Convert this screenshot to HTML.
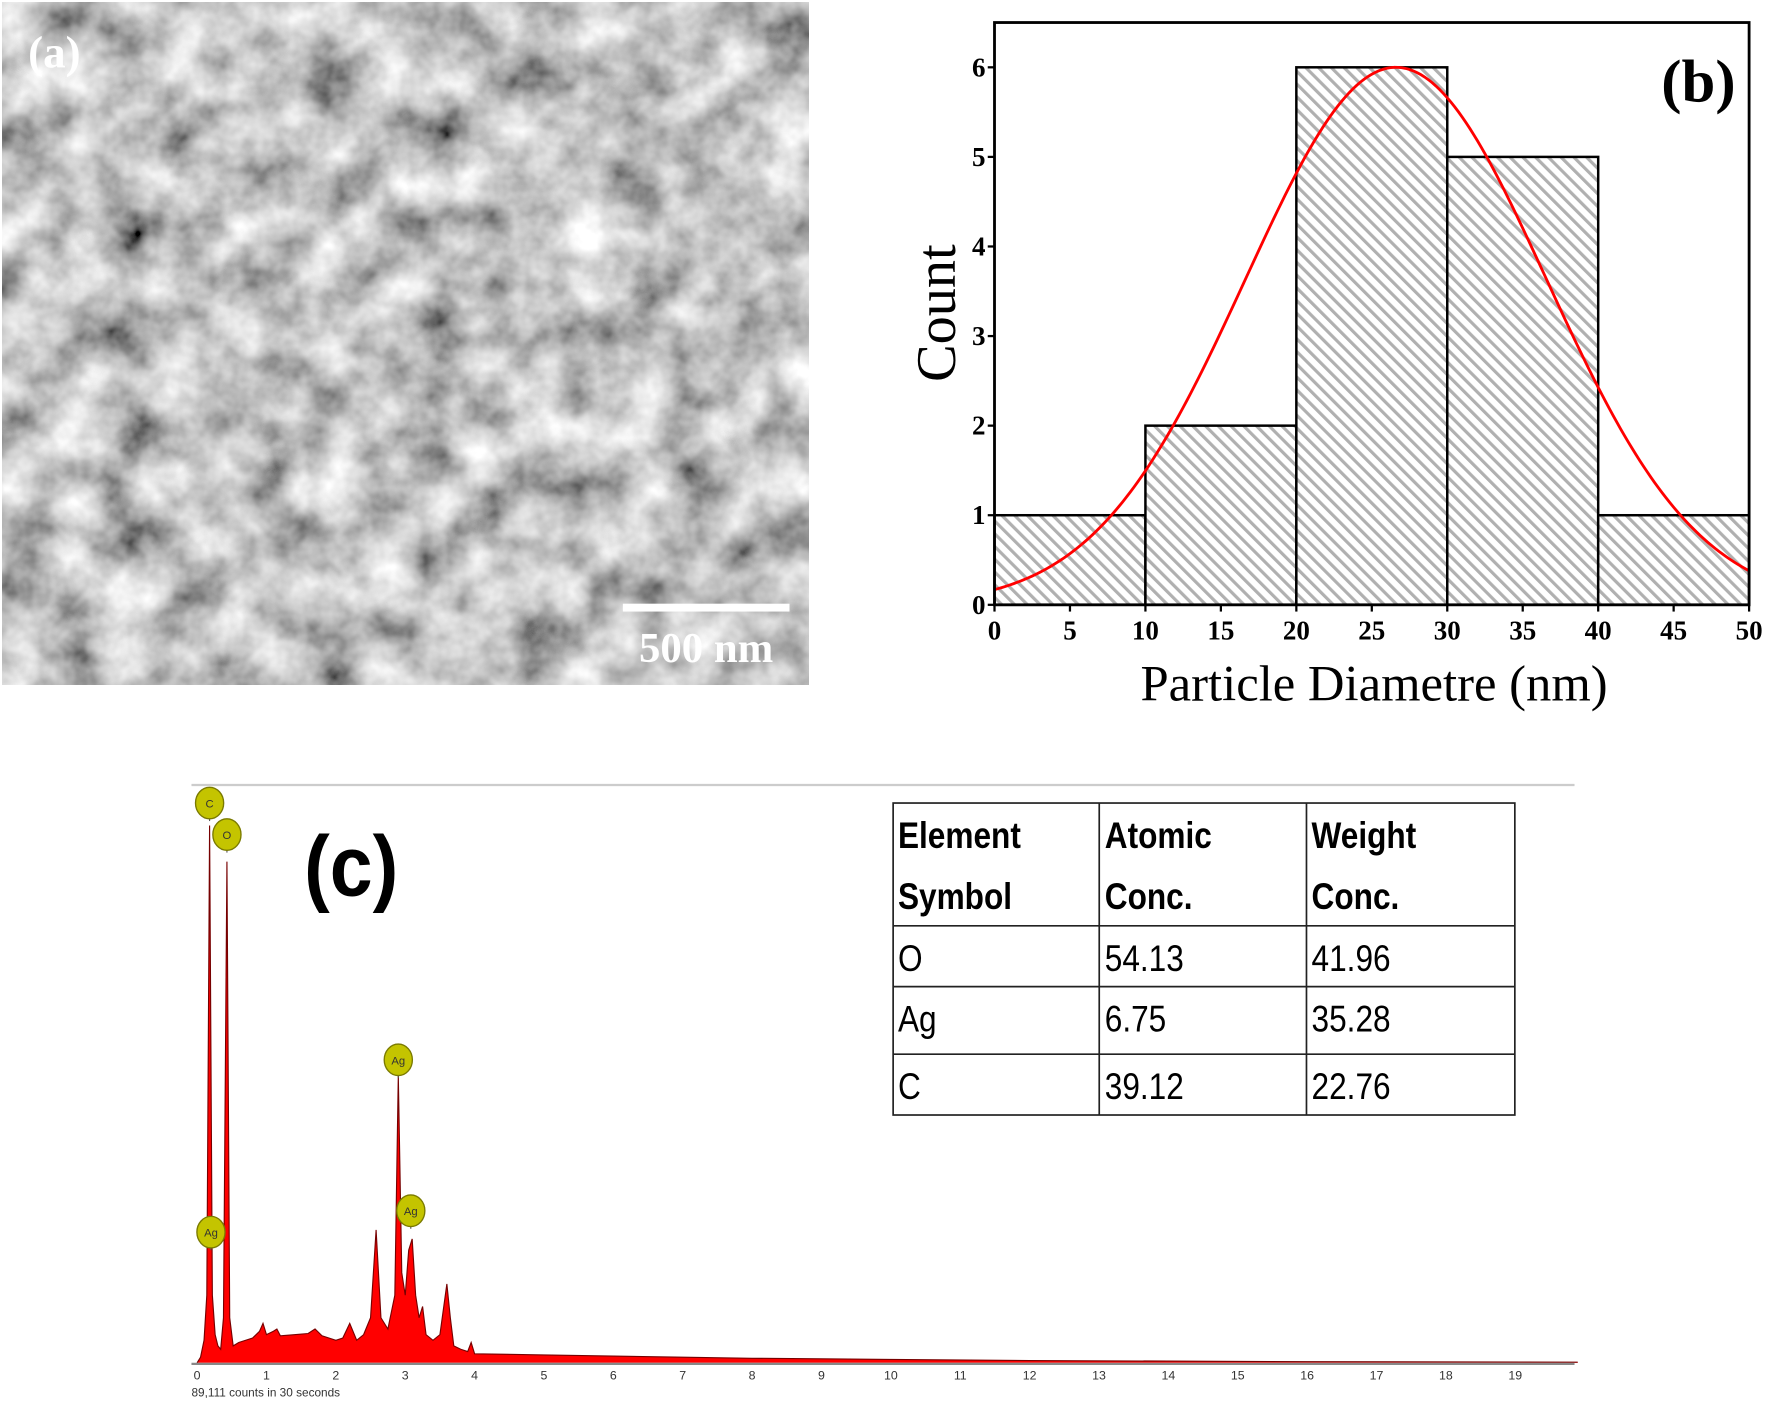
<!DOCTYPE html>
<html><head><meta charset="utf-8"><style>
html,body{margin:0;padding:0;background:#fff;}
svg{display:block;}
</style></head><body>
<svg id="fig" xmlns="http://www.w3.org/2000/svg" width="1766" height="1403" viewBox="0 0 1568 1245.7" preserveAspectRatio="none" font-family="Liberation Serif, serif">
<defs>
<filter id="sem" x="0" y="0" width="100%" height="100%">
<feTurbulence type="fractalNoise" baseFrequency="0.022" numOctaves="4" seed="11" result="n"/>
<feColorMatrix in="n" type="matrix" values="1.3 0 0 0 -0.1  1.3 0 0 0 -0.1  1.3 0 0 0 -0.1  0 0 0 0 1"/>
</filter>
<pattern id="hatch" patternUnits="userSpaceOnUse" width="8" height="8" patternTransform="rotate(-45)">
<rect width="8" height="8" fill="#fff"/>
<rect x="0" y="0" width="2.8" height="8" fill="#b0b0b0"/>
</pattern>
</defs>

<g>
<rect x="2" y="2" width="716" height="606" fill="#8c8c8c" filter="url(#sem)"/>
<text x="25" y="60" fill="#fff" font-weight="bold" font-size="40">(a)</text>
<rect x="553" y="536" width="148" height="7" fill="#fff"/>
<text x="627" y="588" fill="#fff" font-weight="bold" font-size="38" text-anchor="middle">500 nm</text>
</g>

<g id="hist"></g>
<g id="eds"></g>

<g font-family="Liberation Sans, sans-serif" font-size="33">
<rect x="793" y="713" width="552" height="277" fill="#fff" stroke="#222" stroke-width="1.5"/>
<line x1="976" y1="713" x2="976" y2="990" stroke="#222" stroke-width="1.5"/>
<line x1="1160" y1="713" x2="1160" y2="990" stroke="#222" stroke-width="1.5"/>
<line x1="793" y1="822" x2="1345" y2="822" stroke="#222" stroke-width="1.5"/>
<line x1="793" y1="876" x2="1345" y2="876" stroke="#222" stroke-width="1.5"/>
<line x1="793" y1="936" x2="1345" y2="936" stroke="#222" stroke-width="1.5"/>
<g font-weight="bold" transform="scale(0.85,1)">
<text x="938" y="753">Element</text>
<text x="938" y="807">Symbol</text>
<text x="1154" y="753">Atomic</text>
<text x="1154" y="807">Conc.</text>
<text x="1370" y="753">Weight</text>
<text x="1370" y="807">Conc.</text>
</g>
<g transform="scale(0.85,1)">
<text x="938" y="862">O</text>
<text x="1154" y="862">54.13</text>
<text x="1370" y="862">41.96</text>
<text x="938" y="916">Ag</text>
<text x="1154" y="916">6.75</text>
<text x="1370" y="916">35.28</text>
<text x="938" y="976">C</text>
<text x="1154" y="976">39.12</text>
<text x="1370" y="976">22.76</text>
</g>
</g>
<text x="270" y="795" font-family="Liberation Sans, sans-serif" font-weight="bold" font-size="76" transform="translate(270,0) scale(0.9,1) translate(-270,0)">(c)</text>
</svg>
<script>
// ---------- Histogram data ----------
const binEdges = [0, 10, 20, 30, 40, 50];
const binCounts = [1, 2, 6, 5, 1];
const xTicks = [0, 5, 10, 15, 20, 25, 30, 35, 40, 45, 50];
const yTicks = [0, 1, 2, 3, 4, 5, 6];
const fitMean = [26.6];
const fitSigma = [9.96];
const fitPeak = [6.0];

// ---------- EDS data ----------
const energies = [0,0.05,0.1,0.14,0.18,0.22,0.26,0.3,0.34,0.38,0.43,0.47,0.52,0.6,0.7,0.8,0.9,0.95,1.0,1.1,1.15,1.2,1.4,1.6,1.7,1.8,1.9,2.0,2.1,2.2,2.3,2.4,2.5,2.58,2.65,2.75,2.85,2.9,2.95,3.0,3.05,3.1,3.15,3.2,3.25,3.3,3.4,3.5,3.6,3.65,3.7,3.8,3.9,3.95,4.0,5,6,7,8,9,10,12,14,16,19.9];
const counts = [0,5,20,60,477,60,25,15,12,40,445,40,15,18,20,22,28,35,25,28,30,24,25,26,30,24,22,20,22,35,20,25,40,118,40,30,60,255,80,60,100,110,60,40,50,25,20,25,70,40,15,12,10,18,8,7,6,5,4,3.5,3,2,1.5,1,0.5];
const keVTicks = [0,1,2,3,4,5,6,7,8,9,10,11,12,13,14,15,16,17,18,19];
const markerLabels = ["C","O","Ag","Ag","Ag"];
const markerEnergies = [0.18,0.43,2.9,3.08,0.2];
const markerCounts = [497,469,269,135,116];

const NS = "http://www.w3.org/2000/svg";
function mk(parent, tag, attrs, text){
  const el = document.createElementNS(NS, tag);
  for (const k in attrs) el.setAttribute(k, attrs[k]);
  if (text !== undefined) el.textContent = text;
  parent.appendChild(el);
  return el;
}

(function(){
  const g = document.getElementById('hist');
  const L=883, R=1553, T=20, B=537, xmax=50, ymax=6.5;
  const sx = v => L + v/xmax*(R-L);
  const sy = v => B - v/ymax*(B-T);
  for (let i=0;i<binCounts.length;i++){
    const r = mk(g,'rect',{x:sx(binEdges[i]),y:sy(binCounts[i]),width:sx(binEdges[i+1])-sx(binEdges[i]),height:B-sy(binCounts[i]),fill:'url(#hatch)',stroke:'#000','stroke-width':2.2});
    
    
  }
  let d='';
  for (let i=0;i<=200;i++){
    const x = xmax*i/200;
    const y = fitPeak[0]*Math.exp(-Math.pow(x-fitMean[0],2)/(2*fitSigma[0]*fitSigma[0]));
    d += (i?'L':'M')+sx(x).toFixed(2)+','+sy(y).toFixed(2);
  }
  const c = mk(g,'path',{d:d,fill:'none',stroke:'#f00','stroke-width':2.5});
  
  
  const f = mk(g,'rect',{x:L,y:T,width:R-L,height:B-T,fill:'none',stroke:'#000','stroke-width':2.5});
  
  
  xTicks.forEach(v=>{
    mk(g,'line',{x1:sx(v),y1:B,x2:sx(v),y2:B+6,stroke:'#000','stroke-width':2});
    const t = mk(g,'text',{x:sx(v),y:B+31,'text-anchor':'middle','font-size':24,'font-weight':'bold'},String(v));
    
    
  });
  yTicks.forEach(v=>{
    mk(g,'line',{x1:L-6,y1:sy(v),x2:L,y2:sy(v),stroke:'#000','stroke-width':2});
    const t = mk(g,'text',{x:L-8,y:sy(v)+8,'text-anchor':'end','font-size':24,'font-weight':'bold'},String(v));
    
    
  });
  const xt = mk(g,'text',{x:(L+R)/2+2,y:622,'text-anchor':'middle','font-size':45},'Particle Diametre (nm)');
  
  
  const yt = mk(g,'text',{x:0,y:0,'text-anchor':'middle','font-size':50,transform:'translate(848,278) rotate(-90)'},'Count');
  
  
  const lb = mk(g,'text',{x:1508,y:90,'text-anchor':'middle','font-size':54,'font-weight':'bold'},'(b)');
  
  
})();

(function(){
  const g = document.getElementById('eds');
  const x0=175, kpx=61.6, B=1210;
  const sx = e => x0 + e*kpx;
  const sy = c => B - c;
  mk(g,'line',{x1:170,y1:697,x2:1398,y2:697,stroke:'#ccc','stroke-width':2});
  let d='M'+sx(energies[0])+','+B;
  energies.forEach((e,i)=>{ d+='L'+sx(e).toFixed(2)+','+sy(counts[i]).toFixed(2); });
  const line = d;
  d+='L'+sx(energies[energies.length-1])+','+B+'Z';
  const a = mk(g,'path',{d:d,fill:'#f00',stroke:'none'});
  
  
  const l = mk(g,'path',{d:line,fill:'none',stroke:'#700','stroke-width':1});
  
  
  const ax = mk(g,'line',{x1:170,y1:B+1,x2:1398,y2:B+1,stroke:'#888','stroke-width':2});
  
  
  keVTicks.forEach(v=>{
    const t = mk(g,'text',{x:sx(v),y:B+15,'text-anchor':'middle','font-size':11,'font-family':'Liberation Sans, sans-serif',fill:'#333'},String(v));
    
    
  });
  const ct = mk(g,'text',{x:170,y:B+30,'font-size':10.5,'font-family':'Liberation Sans, sans-serif',fill:'#333'},'89,111 counts in 30 seconds');
  
  
  markerLabels.forEach((lab,i)=>{
    const cx = sx(markerEnergies[i]), cy = sy(markerCounts[i]);
    mk(g,'line',{x1:cx,y1:cy,x2:cx,y2:cy+16,stroke:'#555','stroke-width':1});
    const c = mk(g,'ellipse',{cx:cx,cy:cy,rx:12.5,ry:14,fill:'#c4c400',stroke:'#7a7a00','stroke-width':1.2});
    
    
    const t = mk(g,'text',{x:cx,y:cy+4,'text-anchor':'middle','font-size':10,'font-family':'Liberation Sans, sans-serif',fill:'#333'},lab);
    
    
  });
})();
</script>
</body></html>
